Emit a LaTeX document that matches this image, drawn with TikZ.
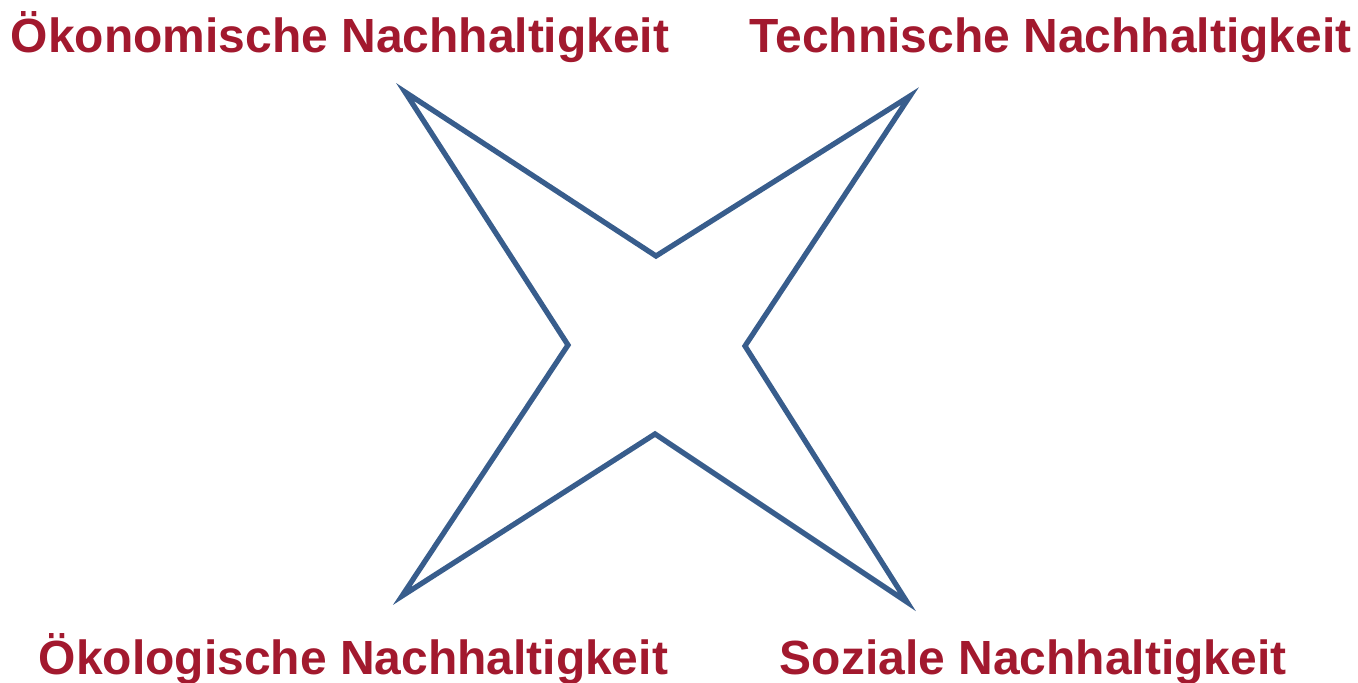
\documentclass[tikz,border=0pt]{standalone}
\usepackage{fontspec}
\setmainfont{Liberation Sans}
\usepackage{tikz}
\definecolor{labelred}{RGB}{162,25,46}
\definecolor{starblue}{RGB}{56,93,140}
\tikzstyle{label}=[anchor=base west,inner sep=0pt,text=labelred,font=\fontsize{27.3}{33}\selectfont\bfseries]

\begin{document}
\begin{tikzpicture}
    \useasboundingbox (0,0) rectangle (27.16,13.64);
    \draw[color=starblue,line width=3pt,line join=miter,miter limit=20]
        (8.10,11.80) -- (13.12,8.52) -- (18.20,11.72) -- (14.90,6.72)
        -- (18.14,1.60) -- (13.10,4.96) -- (8.04,1.72) -- (11.36,6.74) -- cycle;
    \node[label] (oekonomisch) at (0.21,12.58) {Ökonomische Nachhaltigkeit};
    \node[label] (technisch) at (14.99,12.58) {Technische Nachhaltigkeit};
    \node[label] (oekologisch) at (0.77,0.16) {Ökologische Nachhaltigkeit};
    \node[label] (sozial) at (15.59,0.16) {Soziale Nachhaltigkeit};
\end{tikzpicture}
\end{document}
